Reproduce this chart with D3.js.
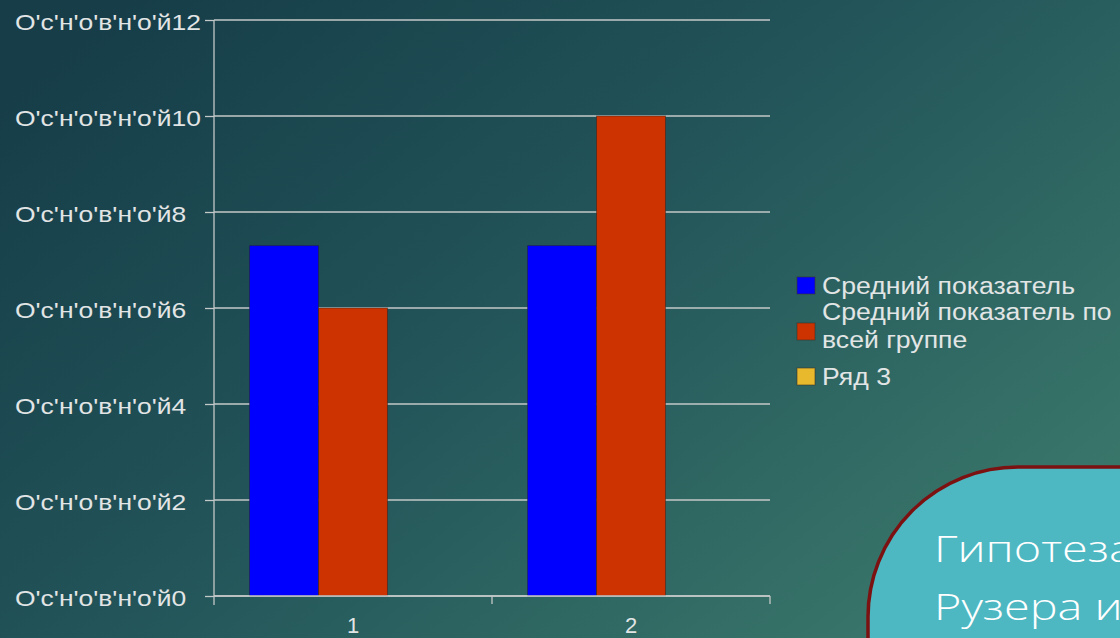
<!DOCTYPE html>
<html><head><meta charset="utf-8">
<script src="https://cdn.jsdelivr.net/npm/d3@7/dist/d3.min.js"></script>
<style>
html,body{margin:0;padding:0;background:#1f4c52;overflow:hidden}
svg{display:block}
</style></head>
<body>
<svg id="c" width="1120" height="638"></svg>
<script>
// ---- data ----
const categories = ["1", "2"];
const seriesNames = ["Средний показатель", "Средний показатель по всей группе", "Ряд 3"];
const seriesA = [7.3, 7.3];     // Средний показатель
const seriesB = [6, 10];        // Средний показатель по всей группе
const seriesC = [null, null];   // Ряд 3 (empty)
const seriesColors = ["#0000ff", "#cc3300", "#e8b92c"];
const yTicks = [0, 2, 4, 6, 8, 10, 12];
const yTickPrefix = "О'с'н'о'в'н'о'й";
const calloutLines = ["Гипотеза", "Рузера и"];

const svg = d3.select("#c");
const W = 1120, H = 638;
const FONT = "'Liberation Sans', Arial, sans-serif";

// background gradient
const defs = svg.append("defs");
const bg = defs.append("linearGradient").attr("id","bg")
  .attr("x1","0").attr("y1","0.15").attr("x2","1").attr("y2","0.85");
bg.append("stop").attr("offset","0").attr("stop-color","#163d48");
bg.append("stop").attr("offset","0.45").attr("stop-color","#225459");
bg.append("stop").attr("offset","1").attr("stop-color","#3c7a6c");
svg.append("rect").attr("width",W).attr("height",H).attr("fill","url(#bg)");

// stretch helper (source picture is horizontally widened)
function stretch(sel, k){
  sel.each(function(){
    const w = this.getComputedTextLength();
    d3.select(this).attr("textLength", w*k).attr("lengthAdjust","spacingAndGlyphs");
  });
}

// scales
const plot = {left:214, right:770, top:20, bottom:596};
const y = d3.scaleLinear().domain([0,12]).range([plot.bottom, plot.top]);
const x = d3.scaleBand().domain(categories).range([plot.left, plot.right]).paddingInner(0).paddingOuter(0);
const xs = d3.scaleBand().domain(d3.range(seriesNames.length)).range([0, x.bandwidth()]).paddingInner(0).paddingOuter(0.515);

const gridColor = "#c4c8c8";
const textColor = "#e2e5e5";
// gridlines
svg.append("g").selectAll("line").data(yTicks).join("line")
  .attr("x1", plot.left).attr("x2", plot.right)
  .attr("y1", d=>y(d)).attr("y2", d=>y(d))
  .attr("stroke", gridColor).attr("stroke-width",1.3);

// bars
const seriesData = [seriesA, seriesB, seriesC];
seriesData.forEach((vals, si) => {
  svg.append("g").selectAll("rect").data(categories.map((c,i)=>({c, v: vals[i]})).filter(d=>d.v!=null))
    .join("rect")
    .attr("x", d => x(d.c) + xs(si))
    .attr("width", xs.bandwidth())
    .attr("y", d => y(d.v))
    .attr("height", d => y(0) - y(d.v))
    .attr("fill", seriesColors[si])
    .attr("stroke", "rgba(40,30,30,0.45)").attr("stroke-width", 1);
});

// y axis
const yAxis = d3.axisLeft(y).tickValues(yTicks).tickSize(9).tickFormat(d => yTickPrefix + d);
const gy = svg.append("g").attr("transform", `translate(${plot.left},0)`).call(yAxis);
gy.select(".domain").attr("d", `M0,${plot.top}V${plot.bottom+9}`).attr("stroke", gridColor).attr("stroke-width",1.3);
gy.selectAll(".tick line").attr("stroke", gridColor).attr("stroke-width",1.3);
const yLabels = gy.selectAll(".tick text")
  .attr("x", 15 - plot.left).attr("dy", "0.45em").attr("text-anchor","start")
  .attr("fill",textColor).style("font-family", FONT).style("font-size","22px");
{
  let maxW = 0; yLabels.each(function(){ maxW = Math.max(maxW, this.getComputedTextLength()); });
  yLabels.call(stretch, 186 / maxW);
}

// x axis
const xAxis = d3.axisBottom(x).tickSize(0).tickPadding(0);
const gx = svg.append("g").attr("transform", `translate(0,${plot.bottom})`).call(xAxis);
gx.select(".domain").attr("stroke", gridColor).attr("stroke-width",1.3).attr("d", `M${plot.left},0H${plot.right}`);
gx.selectAll(".tick text").attr("fill",textColor).style("font-family", FONT).style("font-size","22px")
  .attr("y", 37).attr("dy", null);
// category separators ticks
const bounds = categories.map(c => x(c)).concat([plot.right]).slice(1);
svg.append("g").selectAll("line").data(bounds).join("line")
  .attr("x1", d=>d).attr("x2", d=>d).attr("y1", plot.bottom).attr("y2", plot.bottom+8)
  .attr("stroke", gridColor).attr("stroke-width",1.3);

// legend
const legend = svg.append("g").attr("transform","translate(797,0)");
const legendRows = [
  {lines:[seriesNames[0]], boxY:277, base:[294]},
  {lines:["Средний показатель по", "всей группе"], boxY:323, base:[320, 348]},
  {lines:[seriesNames[2]], boxY:368, base:[385]}
];
legendRows.forEach((r,i)=>{
  legend.append("rect").attr("x",0).attr("y",r.boxY).attr("width",18).attr("height",17)
    .attr("fill", seriesColors[i]).attr("stroke","rgba(60,50,40,0.6)").attr("stroke-width",1);
  r.lines.forEach((t,j)=>{
    legend.append("text").attr("x",25).attr("y",r.base[j]).text(t)
      .attr("fill",textColor).style("font-family",FONT).style("font-size","23px");
  });
});
{
  const first = legend.select("text").node();
  const k = 253 / first.getComputedTextLength();
  legend.selectAll("text").call(stretch, k);
}

// callout shape
svg.append("rect").attr("x",868).attr("y",467).attr("width",420).attr("height",320)
  .attr("rx",150).attr("ry",150)
  .attr("fill","#4db8c2").attr("stroke","#7c1111").attr("stroke-width",3.5);
const ct = svg.append("g");
calloutLines.forEach((t,i)=>{
  ct.append("text").attr("x",934).attr("y",562 + i*58).text(t)
    .attr("fill","#ffffff").style("font-family","'Open Sans', sans-serif").style("font-weight","300").style("font-size","36px");
});
ct.selectAll("text").call(stretch, 1.3);
</script>
</body></html>
